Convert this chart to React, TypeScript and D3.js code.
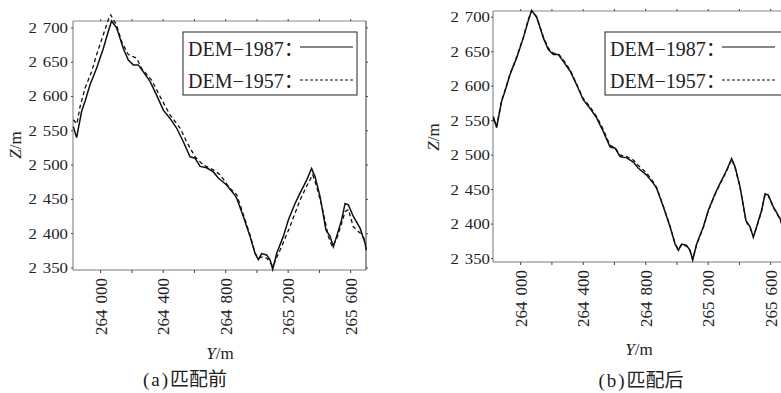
import * as d3 from "d3";
import React from "react";

// 剖面线位置 Y/m 及高程 Z/m
const posY1987 = [
  263825, 263846, 263878, 263900, 263932, 263974, 264017, 264049, 264070, 264102,
  264124, 264145, 264177, 264209, 264241, 264273, 264316, 264358, 264401, 264444,
  264486, 264529, 264572, 264604, 264636, 264678, 264721, 264753, 264806, 264849,
  264870, 264913, 264956, 264988, 265009, 265030, 265062, 265084, 265101, 265126,
  265169, 265201, 265244, 265276, 265318, 265350, 265372, 265404, 265442, 265468,
  265489, 265510, 265542, 265564, 265585, 265617, 265660, 265692, 265700,
];
const dem1987 = [
  2556, 2540, 2578, 2593, 2617, 2641, 2670, 2695, 2710, 2700,
  2685, 2670, 2653, 2646, 2646, 2636, 2622, 2602, 2580, 2568,
  2554, 2534, 2512, 2510, 2498, 2496, 2490, 2481, 2471, 2459,
  2452, 2425, 2396, 2371, 2362, 2371, 2369, 2362, 2348, 2371,
  2396, 2420, 2444, 2459, 2478, 2495, 2483, 2454, 2405, 2396,
  2381, 2396, 2420, 2444, 2442, 2425, 2408, 2386, 2376,
];
// 匹配后的 DEM-1957，与 1987 几乎重合
const dem1957After = [
  2552, 2542, 2579, 2594, 2618, 2642, 2671, 2697, 2709, 2701,
  2686, 2672, 2655, 2648, 2647, 2638, 2624, 2603, 2582, 2570,
  2556, 2537, 2514, 2511, 2500, 2498, 2493, 2485, 2474, 2461,
  2453, 2426, 2397, 2372, 2363, 2370, 2368, 2361, 2349, 2370,
  2395, 2419, 2443, 2458, 2477, 2494, 2482, 2453, 2404, 2395,
  2382, 2395, 2419, 2443, 2441, 2424, 2407, 2385, 2375,
];
// 匹配前的 DEM-1957
const posY1957 = [
  263825, 263848, 263868, 263900, 263942, 263974, 264017, 264049, 264064, 264102,
  264134, 264177, 264230, 264262, 264326, 264380, 264444, 264508, 264550, 264604,
  264657, 264721, 264764, 264828, 264870, 264913, 264956, 264988, 265009, 265033,
  265065, 265084, 265103, 265128, 265158, 265211, 265276, 265318, 265357, 265382,
  265416, 265457, 265482, 265510, 265542, 265564, 265585, 265617, 265660, 265692,
];
const dem1957Before = [
  2566, 2560, 2585, 2612, 2636, 2661, 2690, 2712, 2719, 2704,
  2680, 2661, 2656, 2641, 2624, 2600, 2573, 2554, 2534, 2512,
  2500, 2493, 2486, 2466, 2457, 2428, 2398, 2372, 2364, 2366,
  2364, 2358, 2352, 2366, 2381, 2410, 2449, 2469, 2486, 2469,
  2440, 2396, 2381, 2392, 2415, 2432, 2435, 2410, 2401, 2391,
];

const yTicks = [264000, 264200, 264400, 264600, 264800, 265000, 265200, 265400, 265600];
const yLabelTicks = [264000, 264400, 264800, 265200, 265600];
const zTicks = [2350, 2400, 2450, 2500, 2550, 2600, 2650, 2700];
const legendNames = ["DEM\u22121987", "DEM\u22121957"];

const SERIF = "Liberation Serif, Times New Roman, DejaVu Serif, serif";
const CJK = "Noto Sans CJK SC, sans-serif";

// 千位用空格分隔，如 2 700
const splitThousands = (v: number) => {
  const s = d3.format(",")(v).split(",");
  return s;
};

interface PanelProps {
  left: number;
  top: number;
  bottom: number;
  zDomain: [number, number];
  dashedY: number[];
  dashedZ: number[];
  legendX: number;
  legendW: number;
  caption: string;
  captionX: number;
  captionY: number;
  titleX: number;
  titleY: number;
  zTitleX: number;
  zTitleY: number;
  labelGap: number;
}

const Panel: React.FC<PanelProps> = (p) => {
  const width = 293;
  const x = d3.scaleLinear().domain([263823, 265698]).range([p.left, p.left + width]);
  const z = d3.scaleLinear().domain(p.zDomain).range([p.bottom, p.top]);
  const line = d3.line<[number, number]>().x((d) => x(d[0])).y((d) => z(d[1]));
  const solid = line(posY1987.map((v, i) => [v, dem1987[i]]));
  const dashed = line(p.dashedY.map((v, i) => [v, p.dashedZ[i]]));
  const r = p.left + width;

  return (
    <g>
      {/* 边框 */}
      <line x1={p.left} x2={p.left} y1={p.top} y2={p.bottom} stroke="#777" />
      <line x1={p.left} x2={r} y1={p.bottom} y2={p.bottom} stroke="#777" />
      <line x1={p.left} x2={r} y1={p.top} y2={p.top} stroke="#888" />
      <line x1={r} x2={r} y1={p.top} y2={p.bottom} stroke="#333" />

      {yTicks.map((t) => (
        <g key={t}>
          <line x1={x(t)} x2={x(t)} y1={p.bottom} y2={p.bottom + 3} stroke="#444" />
          <line x1={x(t)} x2={x(t)} y1={p.top} y2={p.top - 2} stroke="#444" />
        </g>
      ))}
      {yLabelTicks.map((t) => {
        const [a, b] = splitThousands(t);
        return (
          <text
            key={t}
            transform={`translate(${x(t) + 6},${p.bottom + 8}) rotate(-90)`}
            textAnchor="end"
            style={{ fontFamily: SERIF, fontSize: 17 }}
            fill="#222"
          >
            {a}
            <tspan dx={6}>{b}</tspan>
          </text>
        );
      })}
      {zTicks.map((t) => {
        const [a, b] = splitThousands(t);
        return (
          <g key={t}>
            <line x1={p.left} x2={p.left - 2} y1={z(t)} y2={z(t)} stroke="#444" />
            <line x1={r} x2={r + 2} y1={z(t)} y2={z(t)} stroke="#444" />
            <text
              transform={`translate(${p.left - p.labelGap},${z(t) + 5}) scale(1.2,1)`}
              textAnchor="end"
              style={{ fontFamily: SERIF, fontSize: 14 }}
              fill="#222"
            >
              {a}
              <tspan dx={5}>{b}</tspan>
            </text>
          </g>
        );
      })}

      <path d={dashed ?? ""} fill="none" stroke="#111" strokeWidth={1.3} strokeDasharray="4,3" />
      <path d={solid ?? ""} fill="none" stroke="#111" strokeWidth={1.5} />

      {/* 图例 */}
      <rect x={p.legendX} y={32} width={p.legendW} height={63} fill="#fff" stroke="#222" />
      {legendNames.map((name, i) => (
        <g key={name}>
          <text x={p.legendX + 5} y={56 + i * 32} style={{ fontFamily: SERIF, fontSize: 20 }} fill="#222">
            {name}
            <tspan style={{ fontFamily: CJK }}>：</tspan>
          </text>
          <line
            x1={p.legendX + 117}
            x2={p.legendX + 170}
            y1={47 + i * 33}
            y2={47 + i * 33}
            stroke="#111"
            strokeWidth={1.2}
            strokeDasharray={i === 0 ? undefined : "3,2"}
          />
        </g>
      ))}

      <text
        transform={`translate(${p.zTitleX},${p.zTitleY}) rotate(-90)`}
        textAnchor="middle"
        style={{ fontFamily: SERIF, fontSize: 17 }}
        fill="#222"
      >
        <tspan fontStyle="italic">Z</tspan>/m
      </text>
      <text x={p.titleX} y={p.titleY} textAnchor="middle" style={{ fontFamily: SERIF, fontSize: 17 }} fill="#222">
        <tspan fontStyle="italic">Y</tspan>/m
      </text>
      <text x={p.captionX} y={p.captionY} textAnchor="middle" style={{ fontSize: 19 }} fill="#222">
        <tspan style={{ fontFamily: SERIF }} letterSpacing={2}>{p.caption.slice(0, 3)}</tspan>
        <tspan style={{ fontFamily: CJK }}>{p.caption.slice(3)}</tspan>
      </text>
    </g>
  );
};

export default function App() {
  return (
    <svg
      width={781}
      height={393}
      style={{ position: "absolute", left: 0, top: 0, background: "#fff" }}
    >
      <Panel
        left={73}
        top={21}
        bottom={270}
        zDomain={[2347, 2710]}
        dashedY={posY1957}
        dashedZ={dem1957Before}
        legendX={183}
        legendW={174}
        caption="(a)匹配前"
        captionX={185}
        captionY={386}
        titleX={220}
        titleY={359}
        zTitleX={21}
        zTitleY={145}
        labelGap={5}
      />
      <Panel
        left={493}
        top={11}
        bottom={262}
        zDomain={[2345, 2709]}
        dashedY={posY1987}
        dashedZ={dem1957After}
        legendX={605}
        legendW={180}
        caption="(b)匹配后"
        captionX={641}
        captionY={387}
        titleX={639}
        titleY={355}
        zTitleX={439}
        zTitleY={137}
        labelGap={3}
      />
    </svg>
  );
}
